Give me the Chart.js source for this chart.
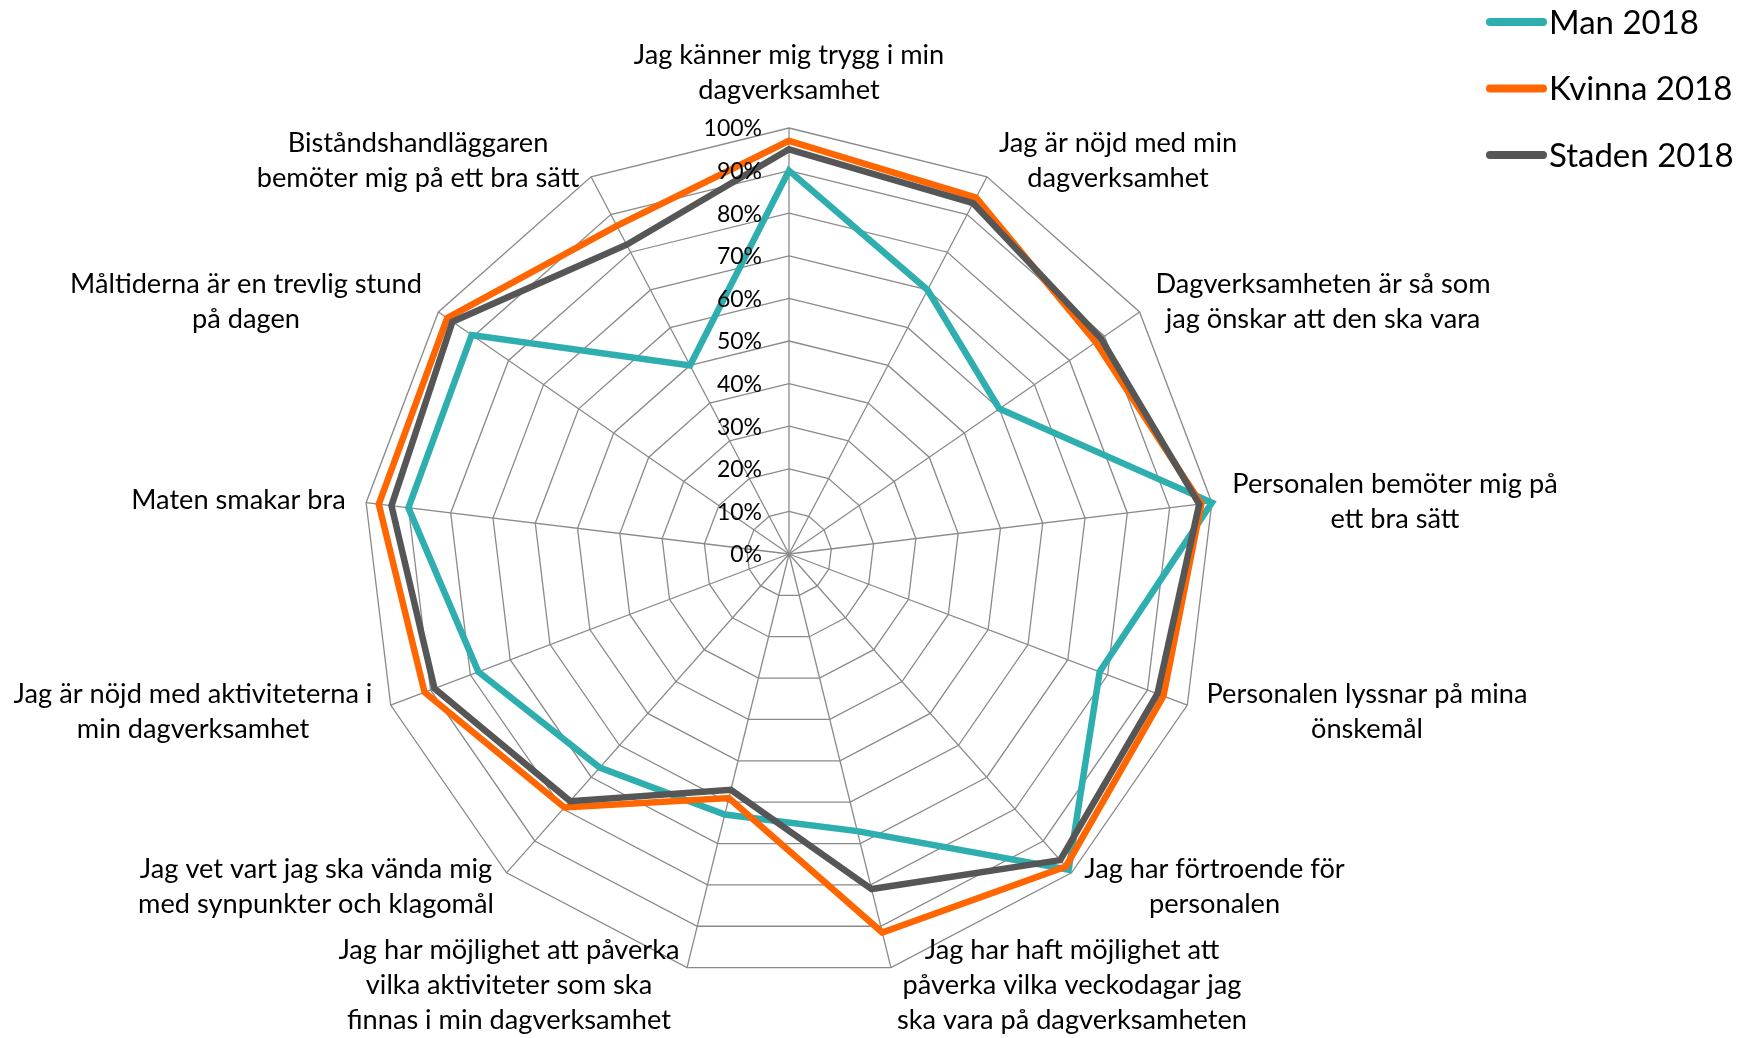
<!DOCTYPE html>
<html><head><meta charset="utf-8">
<script src="https://cdn.jsdelivr.net/npm/chart.js@4.4.1/dist/chart.umd.min.js"></script>
<style>html,body{margin:0;padding:0;background:#fff;overflow:hidden}canvas{display:block}</style>
</head><body>
<canvas id="c" width="1756" height="1038"></canvas>
<script>
// ---- data ----
const categories = [
  ["Jag känner mig trygg i min", "dagverksamhet"],
  ["Jag är nöjd med min", "dagverksamhet"],
  ["Dagverksamheten är så som", "jag önskar att den ska vara"],
  ["Personalen bemöter mig på", "ett bra sätt"],
  ["Personalen lyssnar på mina", "önskemål"],
  ["Jag har förtroende för", "personalen"],
  ["Jag har haft möjlighet att", "påverka vilka veckodagar jag", "ska vara på dagverksamheten"],
  ["Jag har möjlighet att påverka", "vilka aktiviteter som ska", "finnas i min dagverksamhet"],
  ["Jag vet vart jag ska vända mig", "med synpunkter och klagomål"],
  ["Jag är nöjd med aktiviteterna i", "min dagverksamhet"],
  ["Maten smakar bra"],
  ["Måltiderna är en trevlig stund", "på dagen"],
  ["Biståndshandläggaren", "bemöter mig på ett bra sätt"]
];
const seriesNames = ["Man 2018", "Kvinna 2018", "Staden 2018"];
const man    = [90, 70, 60, 100, 78, 99, 67, 63, 67, 78, 90, 90.5, 50];
const kvinna = [97, 94.5, 87.5, 97.5, 94, 98, 91.5, 59, 79.5, 91.5, 97, 97.5, 87];
const staden = [95, 93, 89, 97, 92.5, 96, 81, 57, 77.5, 89, 94, 96, 82];
const tickValues = [0, 10, 20, 30, 40, 50, 60, 70, 80, 90, 100];
const tickLabels = ["0%", "10%", "20%", "30%", "40%", "50%", "60%", "70%", "80%", "90%", "100%"];

// ---- layout / style ----
const colors = ["#2EAEAE", "#FF6600", "#565656"];
const FONT = "Lato";
const CENTER = {x: 789, y: 554, r: 426};
const labelAnchors = [
  [789, 55], [1118, 143], [1323, 284.5], [1395, 484], [1367, 694], [1214.5, 869],
  [1072, 950], [509, 950], [316, 869], [193, 694], [238.5, 500.5], [246, 284.5], [418, 143]
];
const LINE_PITCH = 35;

const overlay = {
  id: "overlay",
  afterDatasetsDraw(chart) {
    const s = chart.scales.r;
    const ctx = chart.ctx;
    ctx.save();
    ctx.fillStyle = "#000";
    // tick labels
    ctx.font = `23px ${FONT}`;
    ctx.textAlign = "right";
    ctx.textBaseline = "middle";
    tickValues.forEach((v, i) => {
      const y = s.yCenter - s.getDistanceFromCenterForValue(v);
      ctx.fillText(tickLabels[i], s.xCenter - 27, y + 1);
    });
    // category labels
    ctx.font = `27.2px ${FONT}`;
    ctx.textAlign = "center";
    categories.forEach((lines, i) => {
      const [x, y] = labelAnchors[i];
      lines.forEach((t, k) => ctx.fillText(t, x, y + k * LINE_PITCH));
    });
    // legend
    ctx.font = `33px ${FONT}`;
    ctx.textAlign = "left";
    seriesNames.forEach((n, i) => {
      const y = 22 + i * 66.5;
      ctx.strokeStyle = colors[i];
      ctx.lineWidth = 8;
      ctx.lineCap = "round";
      ctx.beginPath(); ctx.moveTo(1490, y); ctx.lineTo(1543, y); ctx.stroke();
      ctx.fillText(n, 1549, y + 1);
    });
    ctx.restore();
  }
};

new Chart(document.getElementById("c"), {
  type: "radar",
  data: {
    labels: categories.map(l => l.join(" ")),
    datasets: [
      {label: seriesNames[0], data: man, borderColor: colors[0], order: 2},
      {label: seriesNames[1], data: kvinna, borderColor: colors[1], order: 1},
      {label: seriesNames[2], data: staden, borderColor: colors[2], order: 0}
    ].map(d => Object.assign(d, {borderWidth: 6.5, fill: false, pointRadius: 0, pointHoverRadius: 0, borderJoinStyle: "miter", backgroundColor: "transparent"}))
  },
  options: {
    responsive: false,
    animation: false,
    devicePixelRatio: 1,
    plugins: {legend: {display: false}, tooltip: {enabled: false}},
    scales: {
      r: {
        min: 0, max: 100,
        ticks: {display: false, stepSize: 10},
        pointLabels: {display: false},
        grid: {color: "#8A8A8A", lineWidth: 1.3},
        angleLines: {color: "#8A8A8A", lineWidth: 1.3},
        afterFit(s) { s.xCenter = CENTER.x; s.yCenter = CENTER.y; s.drawingArea = CENTER.r; }
      }
    }
  },
  plugins: [overlay]
});
</script>
</body></html>
